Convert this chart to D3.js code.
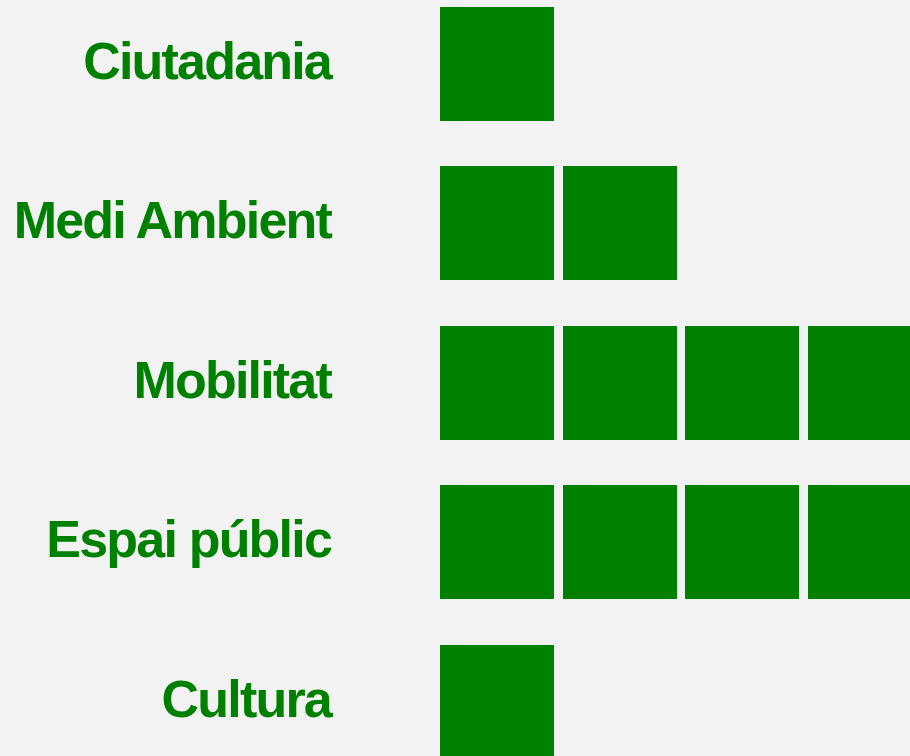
<!DOCTYPE html>
<html>
<head>
<meta charset="utf-8">
<script src="https://cdn.jsdelivr.net/npm/d3@7"></script>
<style>
  html, body { margin: 0; padding: 0; background: #f2f2f2; overflow: hidden; }
  svg { display: block; }
  .label { font-family: "Liberation Sans", Helvetica, Arial, sans-serif; font-weight: bold; fill: #008000; }
</style>
</head>
<body>
<div id="chart"></div>
<script>
// categories and how many squares each one gets
const categories = ['Ciutadania', 'Medi Ambient', 'Mobilitat', 'Espai públic', 'Cultura'];
const counts = [1, 2, 4, 4, 1];

const width = 910;
const height = 756;

const svg = d3.select('#chart').append('svg')
  .attr('width', width)
  .attr('height', height)
  .attr('shape-rendering', 'crispEdges');

// rows: squares 114px tall, step 159.5
const yScale = d3.scaleBand()
  .domain(categories)
  .range([7, 759])
  .paddingInner(45.5 / 159.5)
  .paddingOuter(0);

const size = Math.round(yScale.bandwidth());
// square index -> left edge
const xScale = d3.scaleLinear().domain([0, 1]).range([440, 562.67]);

const rows = svg.selectAll('g.row')
  .data(categories.map((c, i) => ({ name: c, count: counts[i] })))
  .join('g')
  .attr('class', 'row')
  .attr('transform', (d) => `translate(0, ${Math.round(yScale(d.name) - 0.01)})`);

rows.append('text')
  .attr('class', 'label')
  .attr('x', 331)
  .attr('y', size / 2 + 15)
  .attr('text-anchor', 'end')
  .attr('shape-rendering', 'auto')
  .style('font-size', '52px')
  .style('letter-spacing', '-1.8px')
  .text((d) => d.name);

rows.selectAll('rect')
  .data((d) => d3.range(d.count))
  .join('rect')
  .attr('x', (i) => Math.round(xScale(i)))
  .attr('y', 0)
  .attr('width', size)
  .attr('height', size)
  .attr('fill', '#008000');
</script>
</body>
</html>
